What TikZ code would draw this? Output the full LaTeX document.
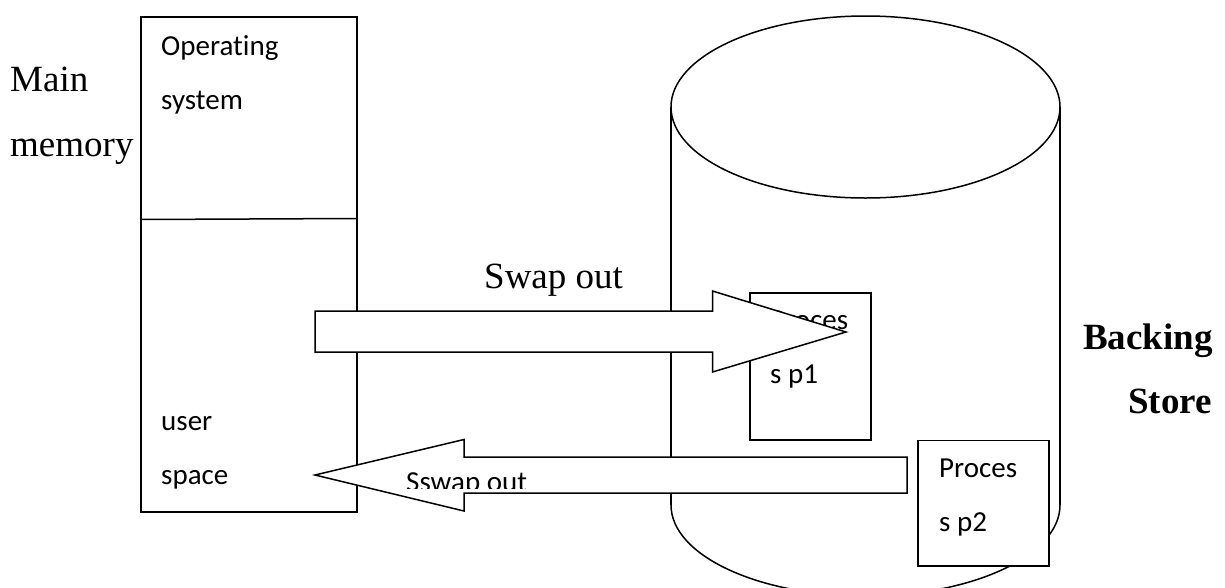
\documentclass[tikz,border=0pt]{standalone}
\usepackage{fontspec}
\setmainfont{Liberation Serif}
\newfontfamily\carlito[Ligatures=NoCommon]{Carlito}
\begin{document}
\begin{tikzpicture}[x=1pt, y=-1pt]
\tikzset{
  outline/.style={draw=black, line width=1.5pt},
  panel/.style={outline, fill=white, line join=miter, inner sep=0pt},
  blockarrow/.style={outline, fill=white, line join=miter},
  sanslabel/.style={inner sep=0pt, anchor=base west, font=\carlito\fontsize{29}{29}\selectfont},
  seriflabel/.style={inner sep=0pt, anchor=base west, font=\fontsize{37}{37}\selectfont},
  boldlabel/.style={seriflabel, font=\bfseries\fontsize{37}{37}\selectfont},
}
\useasboundingbox (0,0) rectangle (1225,587);

% ---- backing store: a cylinder ----
\coordinate (cylTop) at (865.5,107);
\coordinate (cylBot) at (865.5,505);
\draw[outline] (671,107) -- (671,505);
\draw[outline] (1060,107) -- (1060,505);
\draw[outline] (cylTop) ellipse [x radius=194.5pt, y radius=91pt];
\begin{scope}
  \clip (660,505) rectangle (1075,587);
  \draw[outline] (cylBot) ellipse [x radius=194.5pt, y radius=91pt];
\end{scope}

% ---- main memory ----
\node[panel, anchor=north west, minimum width=216pt, minimum height=495pt] (mem) at (140,16) {};
\draw[outline] (140,219.5) -- (356,218.5);
\node[sanslabel] (os1) at (161,55) {Operating};
\node[sanslabel] (os2) at (161,109) {system};
\node[sanslabel] (us1) at (161,430) {user};
\node[sanslabel] (us2) at (161,484) {space};

% ---- process p1 in the backing store ----
\node[panel, anchor=north west, minimum width=121pt, minimum height=147pt] (p1) at (749,292) {};
\node[sanslabel] (p1a) at (770,329) {Proces};
\node[sanslabel] (p1b) at (770,383) {s p1};

% ---- swap out: memory -> backing store ----
\path[blockarrow] (315,311) -- (712.5,311) -- (712.5,291) -- (846,332)
  -- (712.5,372) -- (712.5,352) -- (315,352) -- cycle;
\node[seriflabel] (swapout) at (484,288) {Swap out};

% ---- process p2 in the backing store ----
\node[panel, anchor=north west, minimum width=131pt, minimum height=125.5pt] (p2) at (917,439.5) {};
\node[sanslabel] (p2a) at (939,477) {Proces};
\node[sanslabel] (p2b) at (939,531) {s p2};

% ---- swap back: backing store -> memory ----
\path[blockarrow] (907,457) -- (464,457) -- (464,439.5) -- (315,475)
  -- (464,511) -- (464,493) -- (907,493) -- cycle;
\begin{scope}
  \clip (400,440) rectangle (560,488);
  \node[sanslabel] (swapin) at (406,491) {Sswap out};
\end{scope}

% ---- side captions ----
\node[seriflabel] (mm1) at (10,91) {Main};
\node[seriflabel] (mm2) at (10,156) {memory};
\node[boldlabel] (bs1) at (1083,349) {Backing};
\node[boldlabel, anchor=base east] (bs2) at (1212,413) {Store};
\end{tikzpicture}
\end{document}
